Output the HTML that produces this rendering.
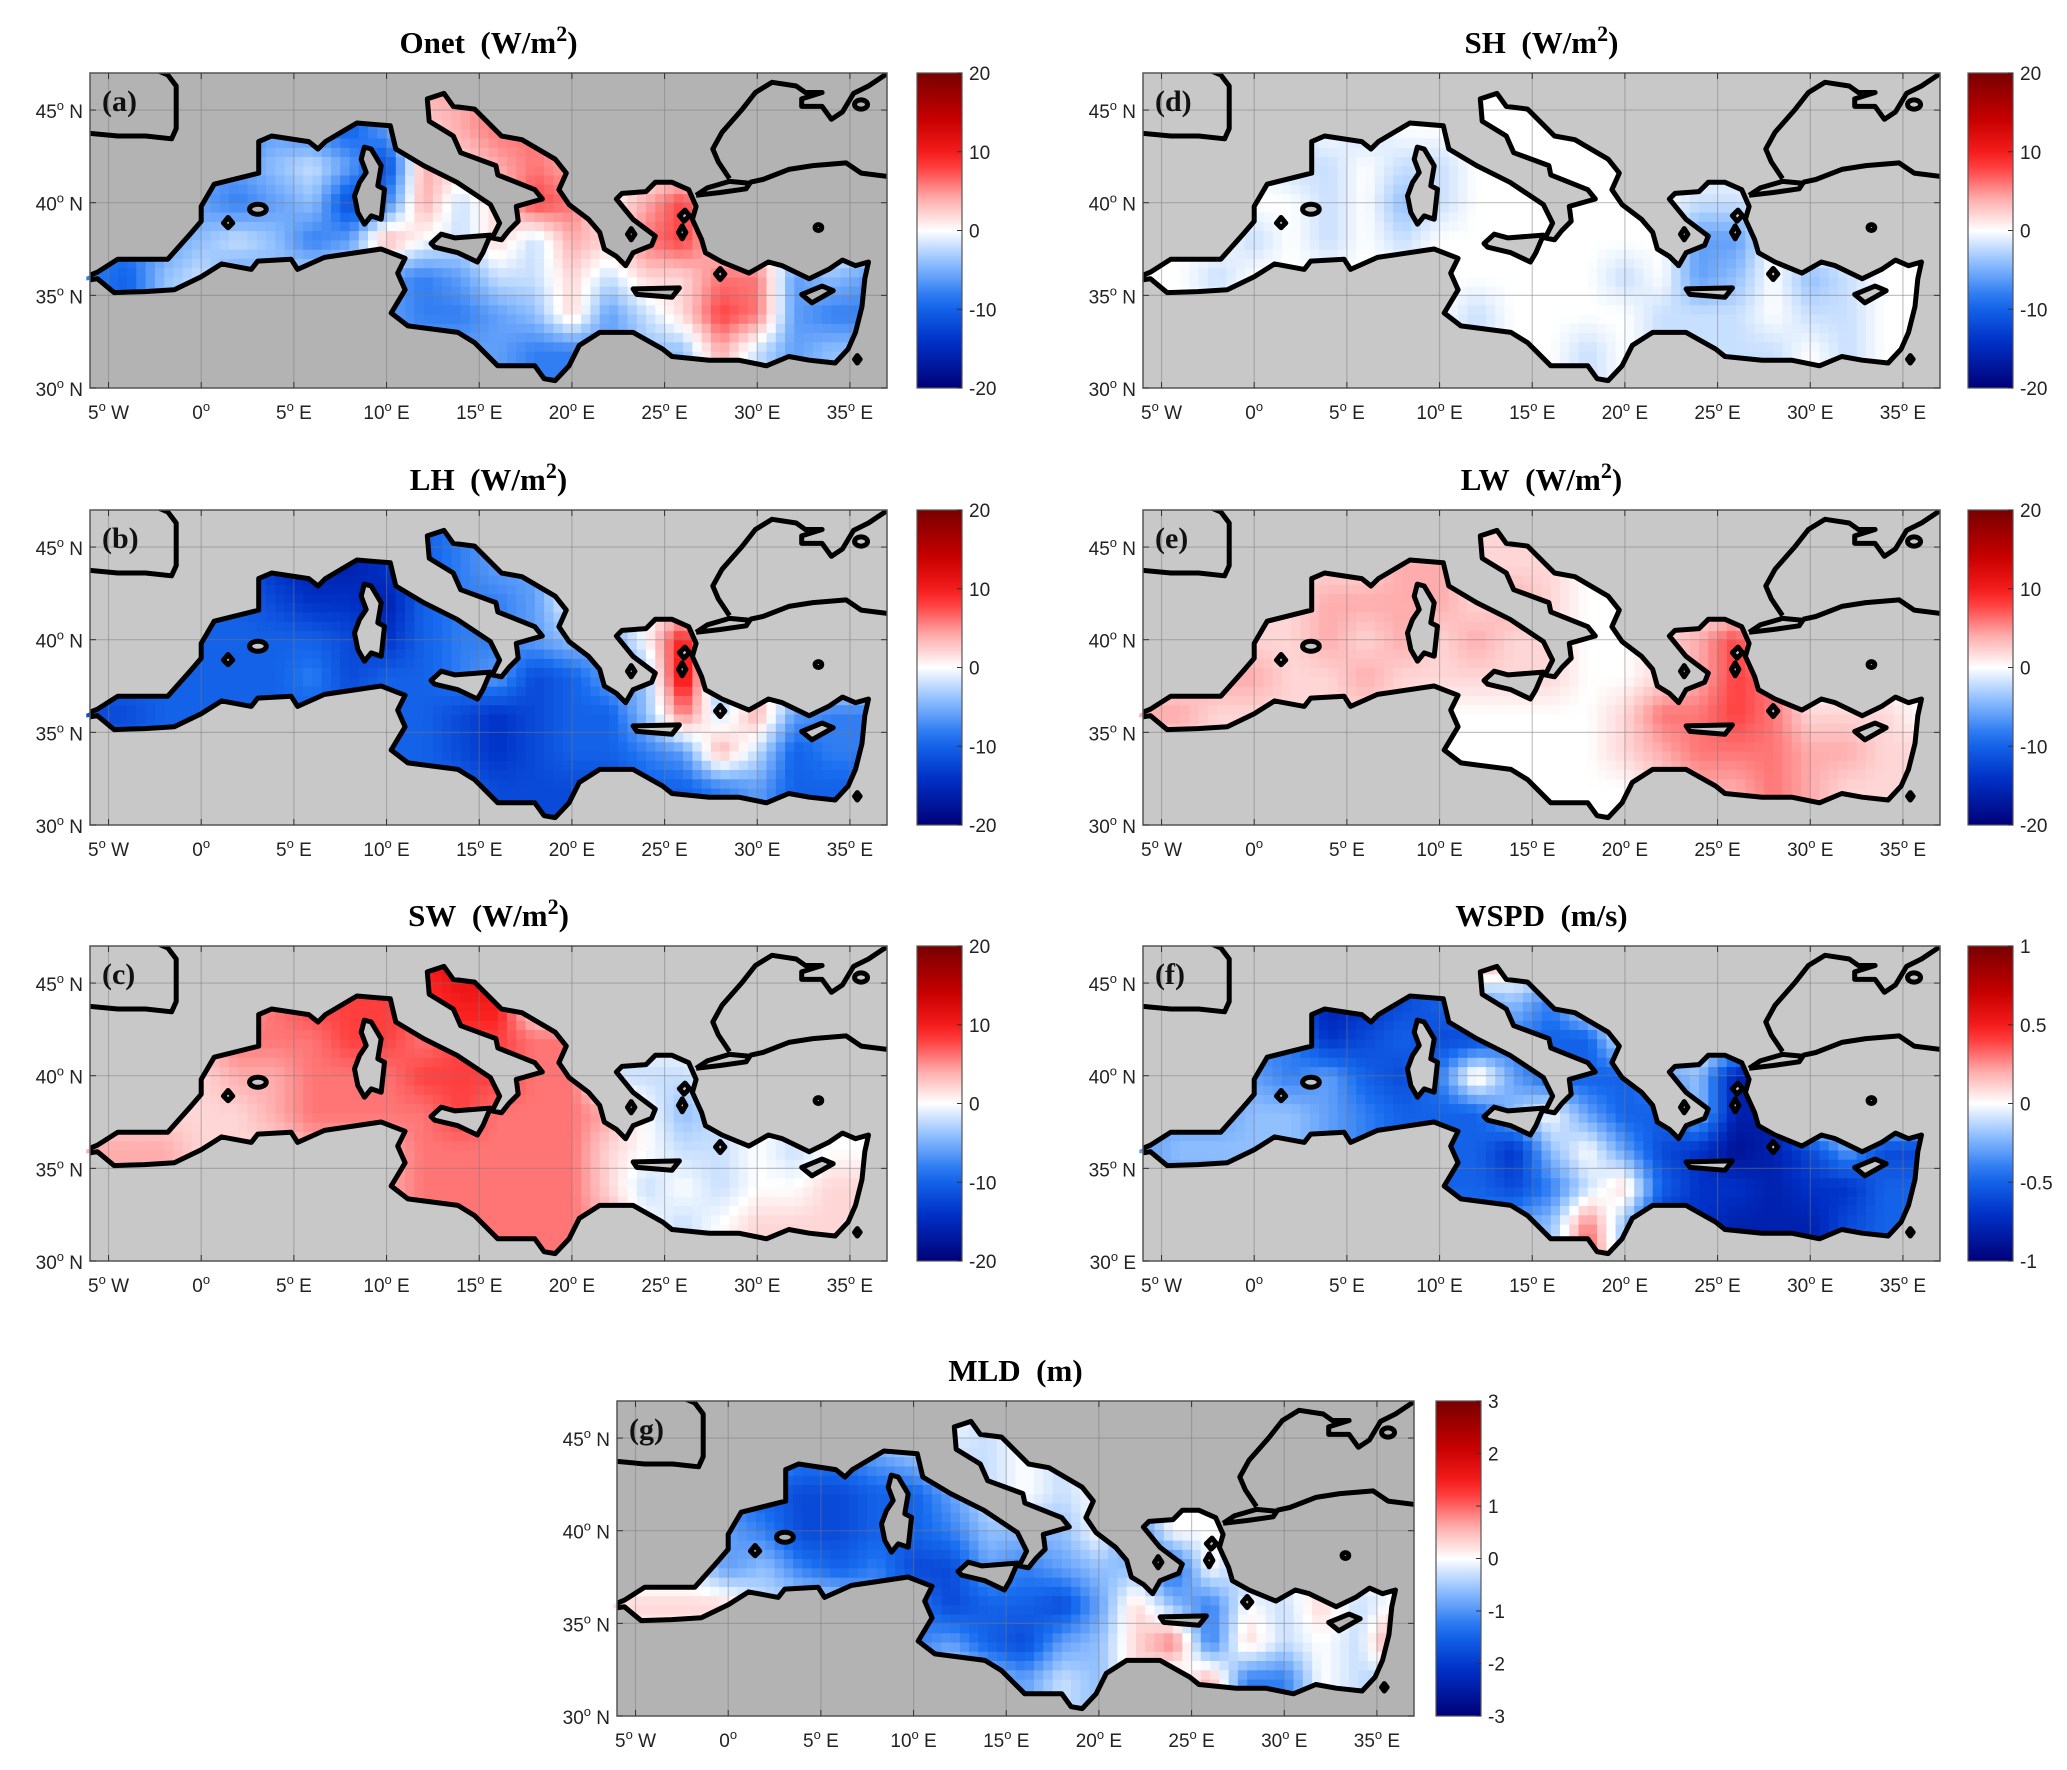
<!DOCTYPE html>
<html><head><meta charset="utf-8">
<style>
html,body{margin:0;padding:0;background:#fff;}
svg{display:block;}
.tl{font-family:"Liberation Sans","DejaVu Sans",sans-serif;font-size:19px;fill:#222;}
.tt{font-family:"Liberation Serif",serif;font-size:31px;font-weight:bold;fill:#000;}
.pl{font-family:"Liberation Serif",serif;font-size:30px;font-weight:bold;fill:#111;}
</style></head>
<body>
<svg id="fig" xmlns="http://www.w3.org/2000/svg" width="2067" height="1770" viewBox="0 0 2067 1770">
<rect x="0" y="0" width="2067" height="1770" fill="#fff"/>
</svg>
<script>
// Grid: lon centres -6..36 step 2 (22 cols), lat rows 46..30 step 2 (9 rows).
// codes: '0'=0, '1'..'9' = +0.1..+0.9 of max, 'a'..'i' = -0.1..-0.9 of max
const gridLons = [-6,-4,-2,0,2,4,6,8,10,12,14,16,18,20,22,24,26,28,30,32,34,36];
const gridLats = [46,44,42,40,38,36,34,32,30];
const onetValues = [
"dddddcdec2233300000000","dddddcdec1233200022000","cccccbacf2123200022000",
"ccccdcbfd2a14302400000","ddcbabdc20a1a213410000","debacbaacdcaa1a1133cbc",
"debacbaacddcb1ca143cdd","ccccccccccccddcbb2acbb","ccccccccccccddcbb2acbb"];
const lhValues = [
"eeeeeffhfedcc000000000","eeeeeghhgedcc000000000","eeeeefggheddc000000000",
"eeeeeeefgeddcbc05a0000","eeeeeedfeedcfecb6c0000","ffeeeeeeeefgfeeb3a2cdd",
"eeeeeeeeeefgfeedc2aedd","eeeeeeeeeeeffffeedceee","eeeeeeeeeeeffffeedceee"];
const swValues = [
"3333334455660000000000","2222234444550000000000","2222333443443300000000",
"11112233344433aaa00000","1111123333433320ba0000","2221112223333310aa0a00",
"222222222333331a0a0011","2222222223333320a01111","2222222223333320a01111"];
const shValues = [
"0000000000000000000000","0000a0a000000000000000","0000aa0aa0000000000000",
"00000a0ba000000aa00000","000a0a0a0000000cc00000","00a0000000000a0cb0ba00",
"0000a0000a0000aaa0aa00","000000000a00a0aaaa0a00","000000000a00a0aaaa0a00"];
const lwValues = [
"1111111111111000000000","1111111221110000000000","1111122221210000000000",
"2221121212110012400000","1122112111110012430000","2211111100000133431110",
"1111110000000123332211","1111110000000012232111","1111110000000012232111"];
const wspdValues = [
"fffffggfe2100000000000","eeeeehgfecbd0000000000","dddddgfeffdee000000000",
"ccccdcefd1ceeecbhh0000","cccbbcdeeeb0ceebhh0000","cbbbbcdeeegb0cfgihfcff",
"ccccccdeeefda1egghggee","cccccccccdcb3bgghhhfee","cccccccccdcb4bgghhhfee"];
const mldValues = [
"0000000000a00000000000","cccccddcbaa0a000000000","cccdeffeeca0a000000000",
"bbccdffeedbbb0d0000000","aaacbdedffcdcbbe0b0000","1111aaacdfeefc1bd0a1a0",
"0000a0abdcefcb13d1a0a3","0000000ababcab1a2dd0ab","0000000ababcab1a2dd0ab"];
const fluxTicks = [20,10,0,-10,-20];
const wspdTicks = [1,0.5,0,-0.5,-1];
const mldTicks = [3,2,1,0,-1,-2,-3];
const lonTicks = [-5,0,5,10,15,20,25,30,35];
const latTicks = [45,40,35,30];

const SEA=[[-6.2,36.0],[-5.6,36.25],[-4.5,36.95],[-1.8,36.95],[-0.6,38.3],[0.0,39.0],[0.0,39.8],[0.7,41.0],[3.1,41.6],[3.1,43.3],[3.8,43.6],[5.8,43.3],[6.3,42.9],[6.7,43.3],[8.4,44.3],[10.2,44.15],[10.5,42.9],[12.0,42.0],[13.8,41.1],[15.6,39.9],[16.1,38.9],[15.7,38.1],[16.2,38.0],[16.6,38.5],[17.1,39.0],[17.0,39.8],[18.4,40.2],[18.0,40.7],[16.0,41.5],[15.9,42.0],[14.0,42.7],[13.6,43.6],[12.3,44.4],[12.2,45.6],[13.1,45.9],[13.6,45.2],[14.75,45.05],[16.2,43.6],[17.3,43.4],[19.1,42.35],[19.7,41.6],[19.3,40.7],[19.85,39.9],[20.9,39.1],[21.5,38.4],[21.75,37.5],[22.4,37.1],[22.9,36.6],[23.3,37.3],[24.3,37.7],[24.5,38.2],[23.3,39.1],[22.4,40.2],[22.7,40.5],[24.0,40.6],[24.5,41.1],[25.4,41.1],[26.3,40.7],[26.7,39.8],[26.5,39.1],[27.0,38.0],[27.2,37.3],[28.1,36.8],[29.55,36.2],[30.6,36.8],[31.35,36.6],[32.8,35.9],[33.85,36.4],[34.6,36.9],[35.3,36.6],[36.0,36.8],[35.8,35.9],[35.65,34.4],[35.3,33.0],[34.9,32.1],[34.2,31.35],[32.8,31.5],[31.7,31.7],[30.5,31.2],[29.0,31.5],[27.4,31.5],[25.4,31.7],[24.9,32.1],[23.3,33.0],[21.5,33.0],[20.4,32.3],[19.85,31.2],[19.1,30.4],[18.5,30.5],[18.0,31.2],[16.0,31.2],[14.75,32.45],[13.85,33.0],[11.15,33.35],[10.25,34.05],[11.0,35.3],[10.6,36.2],[11.0,37.0],[9.7,37.5],[6.65,37.05],[5.2,36.4],[4.85,36.95],[3.05,36.85],[2.7,36.4],[1.1,36.7],[0.0,36.0],[-1.45,35.3],[-3.05,35.2],[-4.7,35.15],[-5.6,35.9],[-6.2,35.8]];
const ISLANDS=[
 [[8.63,42.35],[8.8,43.0],[9.17,42.9],[9.71,41.99],[9.53,40.91],[9.89,40.73],[9.71,39.11],[9.17,39.29],[8.81,38.84],[8.45,39.47],[8.27,40.37],[8.54,41.09],[8.9,41.63]],
 [[12.4,37.8],[12.95,38.3],[13.7,38.1],[15.6,38.25],[15.2,37.3],[14.9,36.8],[13.85,37.3],[12.6,37.6]],
 [[23.3,35.35],[25.8,35.4],[25.4,34.9],[23.5,35.05]],
 [[32.4,35.05],[33.5,35.5],[34.1,35.25],[32.95,34.6]],
 [[1.2,38.9],[1.45,39.2],[1.7,38.9],[1.45,38.65]],
 [[25.8,39.3],[26.1,39.6],[26.35,39.3],[26.05,39.0]],
 [[25.75,38.4],[25.95,38.75],[26.15,38.4],[25.95,38.05]],
 [[27.75,36.15],[28.0,36.45],[28.25,36.15],[28.0,35.85]],
 [[23.0,38.3],[23.2,38.6],[23.4,38.3],[23.2,38.0]]
];
const LANDLINES=[
 [[-6.1,43.75],[-4.5,43.6],[-3,43.6],[-1.6,43.45],[-1.35,44.0],[-1.35,46.3],[-1.8,46.9],[-2.3,47.1]],
 [[28.5,41.3],[27.9,42.2],[27.6,42.9],[28.1,43.8],[29.2,45.05],[29.9,45.95],[30.8,46.5],[32.1,46.3],[32.6,45.95],[33.5,45.95],[32.4,45.6],[32.4,45.2],[33.5,45.2],[34.0,44.5],[34.6,44.9],[35.2,45.9],[36.0,46.3],[36.9,46.9],[37.2,47.1]],
 [[29.6,41.1],[30.3,41.25],[31.7,41.8],[33.0,42.0],[34.8,42.15],[35.6,41.6],[37.2,41.4]],
 [[26.7,40.4],[27.3,40.8],[28.5,41.15],[29.6,41.05],[29.4,40.75],[28.0,40.55],[26.7,40.4]]
];
const RINGS=[[3.06,39.65,0.45,0.27],[33.3,38.66,0.18,0.16],[35.6,45.3,0.35,0.25]];

const PANELS=[
 {id:'a',title:'Onet',unit:'W/m',sup:'2',vals:onetValues,max:20,ticks:fluxTicks,fx:90,fy:73,gray:'#b3b3b3',cbx:917},
 {id:'b',title:'LH',unit:'W/m',sup:'2',vals:lhValues,max:20,ticks:fluxTicks,fx:90,fy:510,gray:'#c8c8c8',cbx:917},
 {id:'c',title:'SW',unit:'W/m',sup:'2',vals:swValues,max:20,ticks:fluxTicks,fx:90,fy:946,gray:'#c8c8c8',cbx:917},
 {id:'d',title:'SH',unit:'W/m',sup:'2',vals:shValues,max:20,ticks:fluxTicks,fx:1143,fy:73,gray:'#c8c8c8',cbx:1968},
 {id:'e',title:'LW',unit:'W/m',sup:'2',vals:lwValues,max:20,ticks:fluxTicks,fx:1143,fy:510,gray:'#c8c8c8',cbx:1968},
 {id:'f',title:'WSPD',unit:'m/s',sup:'',vals:wspdValues,max:1,ticks:wspdTicks,fx:1143,fy:946,gray:'#c8c8c8',cbx:1968,bottomE:true},
 {id:'g',title:'MLD',unit:'m',sup:'',vals:mldValues,max:3,ticks:mldTicks,fx:617,fy:1401,gray:'#b3b3b3',cbx:1436}
];
const FW=797, FH=315, CBW=45;
const NS='http://www.w3.org/2000/svg';
const svg=document.getElementById('fig');
function mk(tag,attrs,parent){const e=document.createElementNS(NS,tag);for(const k in attrs)e.setAttribute(k,attrs[k]);(parent||svg).appendChild(e);return e;}
function codeVal(ch){if(!ch||ch==='0')return 0;const c=ch.charCodeAt(0);if(c>=49&&c<=57)return (c-48)/10;if(c>=97&&c<=106)return -(c-96)/10;return 0;}
const STOPS=[[-1,[0,0,120]],[-0.7,[0,50,200]],[-0.45,[25,110,240]],[-0.2,[145,192,255]],[0,[255,255,255]],[0.2,[255,172,172]],[0.45,[255,35,35]],[0.7,[200,0,0]],[1,[120,0,0]]];
function cmap(v){v=Math.max(-1,Math.min(1,v));for(let i=0;i<STOPS.length-1;i++){const a=STOPS[i],b=STOPS[i+1];if(v<=b[0]){const t=(v-a[0])/(b[0]-a[0]);const c=a[1].map((x,k)=>Math.round(x+(b[1][k]-x)*t));return 'rgb('+c.join(',')+')';}}return 'rgb(120,0,0)';}
function field(vals,lon,lat){
 let i=(lon-gridLons[0])/2, j=(gridLats[0]-lat)/2;
 i=Math.max(0,Math.min(gridLons.length-1.001,i)); j=Math.max(0,Math.min(gridLats.length-1.001,j));
 const i0=Math.floor(i),j0=Math.floor(j),ti=i-i0,tj=j-j0;
 const g=(ii,jj)=>codeVal((vals[jj]||'')[ii]);
 return (g(i0,j0)*(1-ti)+g(i0+1,j0)*ti)*(1-tj)+(g(i0,j0+1)*(1-ti)+g(i0+1,j0+1)*ti)*tj;
}
function inPoly(p,poly){let c=false;for(let i=0,j=poly.length-1;i<poly.length;j=i++){const a=poly[i],b=poly[j];if((a[1]>p[1])!==(b[1]>p[1])&&p[0]<(b[0]-a[0])*(p[1]-a[1])/(b[1]-a[1])+a[0])c=!c;}return c;}

PANELS.forEach(P=>{
 const sx=FW/43, sy=FH/17;
 const X=lon=>P.fx+(lon+6)*sx, Y=lat=>P.fy+(47-lat)*sy;
 const pts=poly=>poly.map(p=>X(p[0]).toFixed(1)+','+Y(p[1]).toFixed(1)).join(' ');
 const g=mk('g',{});
 
 
 const t=mk('text',{x:P.fx+FW/2,y:P.fy-20,'text-anchor':'middle','class':'tt'},g);
 
 
 t.appendChild(document.createTextNode(P.title+'\u00a0\u00a0('+P.unit));
 if(P.sup){const s=mk('tspan',{dy:-12,'font-size':22},t);s.textContent=P.sup;const r=mk('tspan',{dy:12},t);r.textContent=')';}
 else{const r=mk('tspan',{},t);r.textContent=')';}
 const bg=mk('rect',{x:P.fx,y:P.fy,width:FW,height:FH,fill:P.gray},g);
 
 
 const cp=mk('clipPath',{id:'sea'+P.id},g);mk('polygon',{points:pts(SEA)},cp);
 const fc=mk('clipPath',{id:'frm'+P.id},g);mk('rect',{x:P.fx,y:P.fy,width:FW,height:FH},fc);
 const cells=mk('g',{'clip-path':'url(#sea'+P.id+')'},g);
 
 
 const st=0.5;
 for(let lon=-6.5;lon<37;lon+=st){for(let lat=30;lat<47;lat+=st){
  const cx=lon+st/2,cy=lat+st/2;
  if(!(inPoly([cx,cy],SEA)||inPoly([lon,lat],SEA)||inPoly([lon+st,lat],SEA)||inPoly([lon,lat+st],SEA)||inPoly([lon+st,lat+st],SEA)))continue;
  const v=field(P.vals,cx,cy);
  const r=mk('rect',{x:X(lon).toFixed(1),y:Y(lat+st).toFixed(1),width:(st*sx+0.6).toFixed(1),height:(st*sy+0.6).toFixed(1),fill:cmap(v)},cells);
  
  
 }}
 const gl=mk('g',{stroke:'#7a7a7a','stroke-opacity':0.45,'stroke-width':1.2},g);
 
 
 lonTicks.forEach(l=>mk('line',{x1:X(l),x2:X(l),y1:P.fy,y2:P.fy+FH},gl));
 latTicks.forEach(l=>{if(l>30)mk('line',{x1:P.fx,x2:P.fx+FW,y1:Y(l),y2:Y(l)},gl);});
 const cg=mk('g',{'clip-path':'url(#frm'+P.id+')',stroke:'#000','stroke-width':5,'stroke-linejoin':'round',fill:'none'},g);
 
 
 mk('polygon',{points:pts(SEA)},cg);
 ISLANDS.forEach(is=>mk('polygon',{points:pts(is),fill:P.gray},cg));
 LANDLINES.forEach(l=>mk('polyline',{points:pts(l)},cg));
 RINGS.forEach(r=>mk('ellipse',{cx:X(r[0]),cy:Y(r[1]),rx:r[2]*sx,ry:r[3]*sy,fill:P.gray},cg));
 mk('polygon',{points:pts([[35.25,31.55],[35.4,31.75],[35.55,31.55],[35.4,31.35]]),fill:'#000'},cg);
 const fr=mk('rect',{x:P.fx,y:P.fy,width:FW,height:FH,fill:'none',stroke:'#555','stroke-width':1.5},g);
 
 
 const pl=mk('text',{x:P.fx+12,y:P.fy+38,'class':'pl'},g);
 
 
 pl.textContent='('+P.id+')';
 lonTicks.forEach(l=>{
  mk('line',{x1:X(l),x2:X(l),y1:P.fy,y2:P.fy+6,stroke:'#333'},g);
  mk('line',{x1:X(l),x2:X(l),y1:P.fy+FH,y2:P.fy+FH-6,stroke:'#333'},g);
  const tx=mk('text',{x:X(l),y:P.fy+FH+31,'text-anchor':'middle','class':'tl'},g);
  
  
  const a=Math.abs(l);
  tx.appendChild(document.createTextNode(String(a)));
  const s=mk('tspan',{dy:-8,'font-size':13},tx);s.textContent='o';
  const r=mk('tspan',{dy:8},tx);r.textContent=l<0?'\u00a0W':(l>0?'\u00a0E':'');
 });
 latTicks.forEach(l=>{
  mk('line',{x1:P.fx,x2:P.fx+6,y1:Y(l),y2:Y(l),stroke:'#333'},g);
  mk('line',{x1:P.fx+FW,x2:P.fx+FW-6,y1:Y(l),y2:Y(l),stroke:'#333'},g);
  const ty=mk('text',{x:P.fx-7,y:Y(l)+8,'text-anchor':'end','class':'tl'},g);
  
  
  ty.appendChild(document.createTextNode(String(l)));
  const s=mk('tspan',{dy:-8,'font-size':13},ty);s.textContent='o';
  const r=mk('tspan',{dy:8},ty);r.textContent='\u00a0'+((P.bottomE&&l===30)?'E':'N');
 });
 const gid='cbg'+P.id;
 const lg=mk('linearGradient',{id:gid,x1:0,y1:0,x2:0,y2:1},g);
 for(let k=0;k<=20;k++){const v=1-k/10;mk('stop',{offset:(k/20).toFixed(3),'stop-color':cmap(v)},lg);}
 const cb=mk('rect',{x:P.cbx,y:P.fy,width:CBW,height:FH,fill:'url(#'+gid+')',stroke:'#555','stroke-width':1.2},g);
 
 
 P.ticks.forEach(v=>{
  const yy=P.fy+(1-(v/P.max+1)/2)*FH;
  mk('line',{x1:P.cbx+CBW-5,x2:P.cbx+CBW,y1:yy,y2:yy,stroke:'#333'},g);
  const ct=mk('text',{x:P.cbx+CBW+7,y:yy+7,'class':'tl'},g);
  
  
  ct.textContent=String(v);
 });
});
</script>
</body></html>
